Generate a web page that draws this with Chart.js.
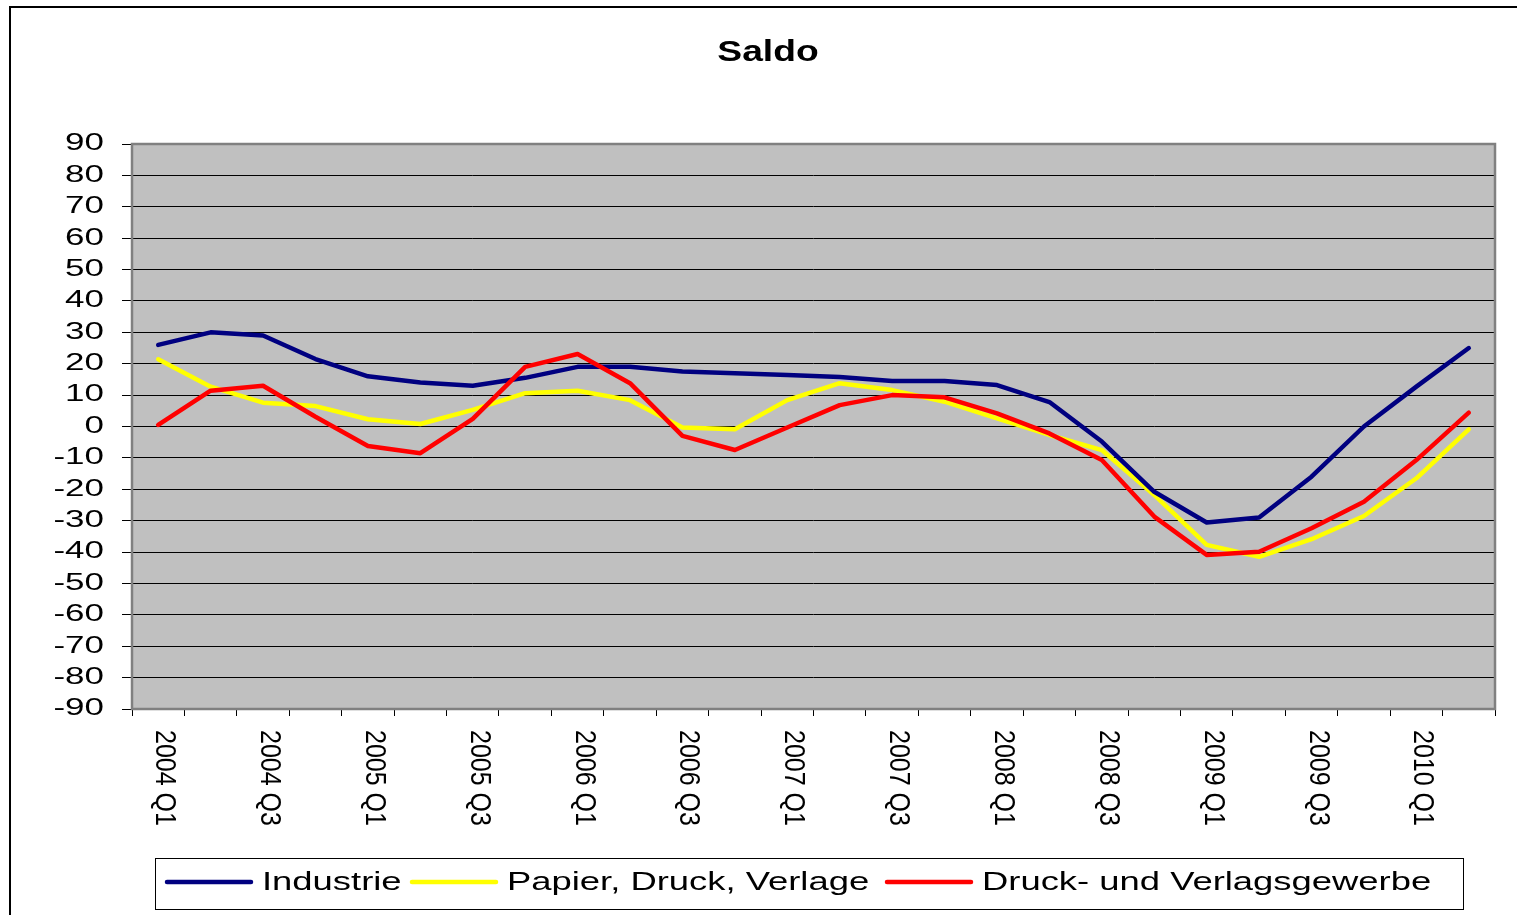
<!DOCTYPE html>
<html><head><meta charset="utf-8">
<script src="https://cdn.jsdelivr.net/npm/chart.js@4.4.1/dist/chart.umd.min.js"></script>
<style>html,body{margin:0;padding:0;background:#fff;overflow:hidden}canvas{display:block}</style>
</head><body>
<canvas id="c" width="1517" height="915"></canvas>
<script>
const chartTitle = 'Saldo';
const categories = [
  '2004 Q1','2004 Q2','2004 Q3','2004 Q4',
  '2005 Q1','2005 Q2','2005 Q3','2005 Q4',
  '2006 Q1','2006 Q2','2006 Q3','2006 Q4',
  '2007 Q1','2007 Q2','2007 Q3','2007 Q4',
  '2008 Q1','2008 Q2','2008 Q3','2008 Q4',
  '2009 Q1','2009 Q2','2009 Q3','2009 Q4',
  '2010 Q1','2010 Q2'
];
const seriesNames = ['Industrie', 'Papier, Druck, Verlage', 'Druck- und Verlagsgewerbe'];
const industrie = [26,30,29,21.5,16,14,13,15.5,19,19,17.5,17,16.4,15.8,14.5,14.5,13.2,7.8,-4.8,-20.8,-30.6,-29,-16,0,12.7,25];
const papier    = [21.4,12.7,7.6,6.5,2.3,0.8,5.3,10.6,11.4,8.4,-0.3,-0.9,8.4,13.8,11.6,7.9,2.6,-2.7,-7.5,-21.8,-37.7,-41.5,-35.9,-28.5,-16.5,-0.9];
const druck     = [0.5,11.4,13,3.1,-6.2,-8.5,2.4,19,23.1,13.8,-3,-7.5,-0.3,6.8,10,9.3,4.2,-2.2,-10.7,-28.7,-40.9,-39.9,-32.4,-24,-10.7,4.4];
const yMin = -90, yMax = 90, yStep = 10;
const colors = ['#000080', '#ffff00', '#ff0000'];

const FONT = '"Liberation Sans", Arial, sans-serif';

const drawPlugin = {
  id: 'excelLook',
  beforeDraw(chart) {
    const ctx = chart.ctx, a = chart.chartArea;
    ctx.save();
    ctx.fillStyle = '#fff';
    ctx.fillRect(0, 0, chart.width, chart.height);
    ctx.strokeStyle = '#000';
    ctx.lineWidth = 2;
    ctx.strokeRect(10, 7, chart.width + 20, chart.height + 20);
    ctx.fillStyle = '#c0c0c0';
    ctx.fillRect(a.left, a.top, a.right - a.left, a.bottom - a.top);
    ctx.restore();
  },
  beforeDatasetsDraw(chart) {
    const ctx = chart.ctx, a = chart.chartArea;
    ctx.save();
    ctx.strokeStyle = '#808080';
    ctx.lineWidth = 2.5;
    ctx.strokeRect(a.left, a.top, a.right - a.left, a.bottom - a.top);
    ctx.restore();
  },
  afterDraw(chart) {
    const ctx = chart.ctx;
    const ys = chart.scales.y, xs = chart.scales.x;
    ctx.save();
    ctx.fillStyle = '#000';
    // y tick labels
    ctx.font = '23px ' + FONT;
    ctx.textAlign = 'right';
    ctx.textBaseline = 'middle';
    ys.ticks.forEach(t => {
      const y = ys.getPixelForValue(t.value);
      ctx.save();
      ctx.translate(104, y);
      ctx.scale(1.52, 1);
      ctx.fillText(String(t.value), 0, 0);
      ctx.restore();
    });
    // x tick labels (every second category, rotated clockwise)
    ctx.font = '25px ' + FONT;
    ctx.textAlign = 'left';
    ctx.textBaseline = 'alphabetic';
    categories.forEach((c, i) => {
      if (i % 2 !== 0) return;
      const x = xs.getPixelForValue(i);
      ctx.save();
      ctx.translate(x - 2, 730);
      ctx.rotate(Math.PI / 2);
      ctx.scale(1, 1.16);
      ctx.fillText(c, 0, 0);
      ctx.restore();
    });
    // title
    ctx.font = 'bold 30px ' + FONT;
    ctx.textAlign = 'center';
    ctx.save();
    ctx.translate(768, 61);
    ctx.scale(1.24, 1);
    ctx.fillText(chartTitle, 0, 0);
    ctx.restore();
    // legend
    ctx.strokeStyle = '#000';
    ctx.lineWidth = 1;
    ctx.strokeRect(155.5, 858.5, 1308, 51);
    const starts = [167, 412, 887];
    ctx.font = '26px ' + FONT;
    ctx.textAlign = 'left';
    chart.data.datasets.forEach((ds, i) => {
      const x0 = starts[i];
      ctx.strokeStyle = ds.borderColor;
      ctx.lineWidth = 4.5;
      ctx.lineCap = 'round';
      ctx.beginPath();
      ctx.moveTo(x0, 882);
      ctx.lineTo(x0 + 84, 882);
      ctx.stroke();
      ctx.save();
      ctx.translate(x0 + 95, 890);
      ctx.scale(1.4, 1);
      ctx.fillStyle = '#000';
      ctx.fillText(ds.label, 0, 0);
      ctx.restore();
    });
    ctx.restore();
  }
};

const mk = (i, data, order) => ({
  label: seriesNames[i], data, borderColor: colors[i], backgroundColor: colors[i],
  borderWidth: 4.5, pointRadius: 0, pointHoverRadius: 0, tension: 0, fill: false,
  borderCapStyle: 'round', borderJoinStyle: 'round', order
});

new Chart(document.getElementById('c'), {
  type: 'line',
  data: {
    labels: categories,
    datasets: [mk(0, industrie, 1), mk(1, papier, 2), mk(2, druck, 0)]
  },
  options: {
    responsive: false,
    animation: false,
    devicePixelRatio: 1,
    layout: { padding: { top: 144, right: 22, bottom: 0, left: 0 } },
    plugins: { legend: { display: false }, title: { display: false }, tooltip: { enabled: false } },
    scales: {
      x: {
        offset: true,
        grid: { offset: true, drawOnChartArea: false, drawTicks: true, tickLength: 7, color: '#000', lineWidth: 1 },
        border: { display: false },
        ticks: { autoSkip: false, maxRotation: 0, minRotation: 0, callback: () => '' },
        afterFit: s => { s.height = 206; }
      },
      y: {
        min: yMin, max: yMax,
        grid: { color: '#000', lineWidth: 1, drawTicks: true, tickLength: 10 },
        border: { display: false },
        ticks: { stepSize: yStep, callback: () => '' },
        afterFit: s => { s.width = 132; }
      }
    }
  },
  plugins: [drawPlugin]
});
</script>
</body></html>
